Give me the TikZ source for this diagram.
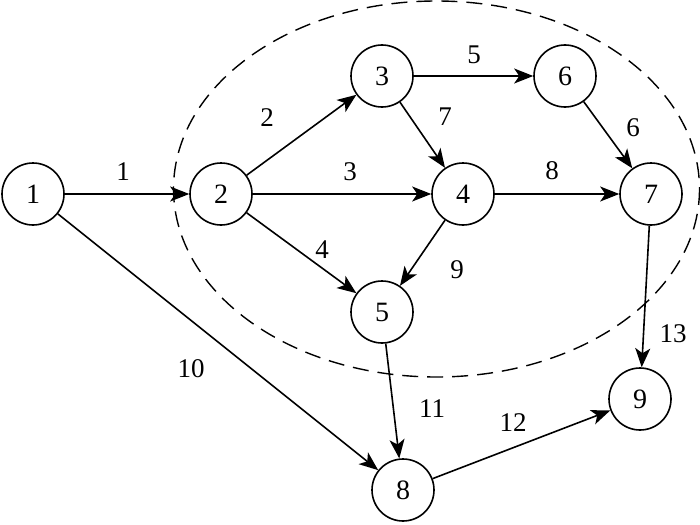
\documentclass[tikz,border=0pt]{standalone}
\usepackage{fontspec}
\setmainfont{Liberation Serif}
\usetikzlibrary{arrows.meta}
\begin{document}
\begin{tikzpicture}[x=1pt,y=-1pt,
  vtx/.style={circle,draw,line width=1.6pt,minimum size=62pt,inner sep=0pt,font=\fontsize{28}{30}\selectfont},
  lbl/.style={inner sep=0pt,font=\fontsize{27}{29}\selectfont},
  arc/.style={line width=1.6pt,-{Stealth[length=19pt,width=15pt,inset=5pt]}}]
\useasboundingbox (0,0) rectangle (700,524);
\draw[line width=1.4pt,dash pattern=on 16pt off 9pt] (436.5,189) ellipse [x radius=263, y radius=188];
\node[vtx] (n1) at (33,194) {1};
\node[vtx] (n2) at (221,194) {2};
\node[vtx] (n3) at (382,76) {3};
\node[vtx] (n6) at (565,76) {6};
\node[vtx] (n4) at (463,194) {4};
\node[vtx] (n7) at (651,194) {7};
\node[vtx] (n5) at (382,312) {5};
\node[vtx] (n9) at (640,399) {9};
\node[vtx] (n8) at (403,490) {8};
\draw[arc] (n1) -- (n2);
\draw[arc] (n2) -- (n3);
\draw[arc] (n2) -- (n4);
\draw[arc] (n2) -- (n5);
\draw[arc] (n3) -- (n6);
\draw[arc] (n3) -- (n4);
\draw[arc] (n6) -- (n7);
\draw[arc] (n4) -- (n7);
\draw[arc] (n4) -- (n5);
\draw[arc] (n7) -- (n9);
\draw[arc] (n5) -- (n8);
\draw[arc] (n1) -- (n8);
\draw[arc] (n8) -- (n9);
\node[lbl] (l1) at (123,172) {1};
\node[lbl] (l2) at (267,118) {2};
\node[lbl] (l3) at (350,172) {3};
\node[lbl] (l4) at (322,250) {4};
\node[lbl] (l5) at (474,55) {5};
\node[lbl] (l7) at (445,117) {7};
\node[lbl] (l6) at (633,128) {6};
\node[lbl] (l8) at (552,171) {8};
\node[lbl] (l9) at (457,270) {9};
\node[lbl] (l10) at (191,369) {10};
\node[lbl] (l11) at (432,409) {11};
\node[lbl] (l12) at (513,423) {12};
\node[lbl] (l13) at (673,334) {13};
\end{tikzpicture}
\end{document}
